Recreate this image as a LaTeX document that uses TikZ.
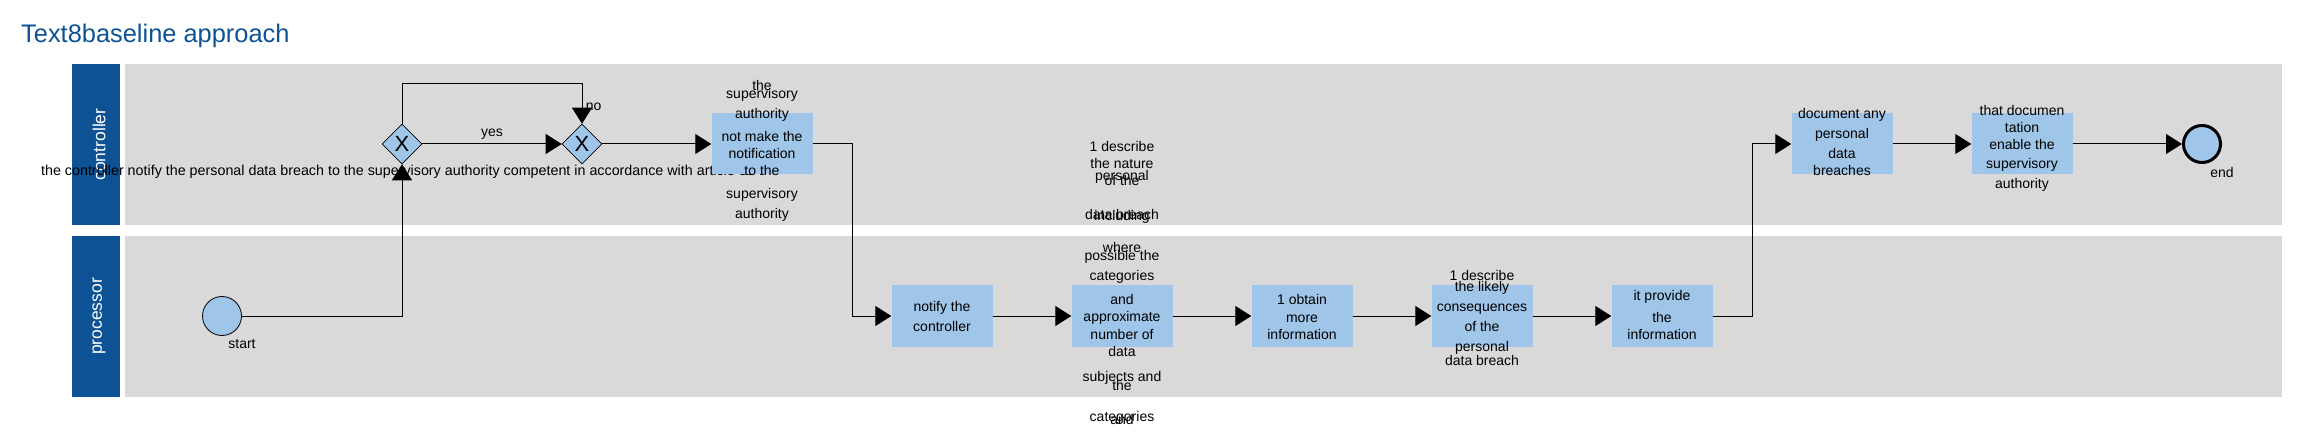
\documentclass[tikz,border=0pt]{standalone}
\usepackage{fontspec}
\setmainfont{Liberation Sans}
\usepackage{xcolor}
\usetikzlibrary{arrows.meta,positioning,calc,shapes.geometric}
\definecolor{laneblue}{RGB}{13,82,149}
\definecolor{lanegray}{RGB}{217,217,217}
\definecolor{taskblue}{RGB}{159,197,232}
\tikzset{
  lane/.style={fill=lanegray,draw=none},
  lanehead/.style={fill=laneblue,draw=none},
  lanename/.style={rotate=90,text=white,font=\fontsize{17.5}{18}\selectfont},
  task/.style={rectangle,fill=taskblue,draw=none,minimum width=101pt,minimum height=61pt,inner sep=0pt},
  tasktext/.style={anchor=base,yshift=-5pt,inner sep=0pt,font=\fontsize{14}{16}\selectfont},
  gateway/.style={diamond,draw,line width=0.6pt,fill=taskblue,minimum size=40pt,inner sep=0pt,
    label={center:{\fontsize{22}{22}\selectfont X}}},
  event/.style={circle,draw,line width=0.8pt,fill=taskblue,minimum size=39pt,inner sep=0pt},
  endevent/.style={event,line width=3pt,minimum size=37pt},
  eventname/.style={font=\fontsize{14}{16}\selectfont,inner sep=0pt},
  flows/.style={
    -{Triangle[length=16pt,width=20pt]},line width=1pt,
    every node/.style={font=\fontsize{14}{16}\selectfont}
  }
}

\begin{document}
\begin{tikzpicture}[x=1pt,y=-1pt,node distance=180pt]
  \useasboundingbox (0,0) rectangle (2299,438);
  \node[anchor=base west,inner sep=0pt,text=laneblue,font=\fontsize{25.4}{28}\selectfont] (title) at (21,43) {Text8baseline approach};

  % pools
  \fill[lanehead] (72,64) rectangle (120,225);
  \fill[lane] (125,64) rectangle (2282,225);
  \fill[lanehead] (72,236) rectangle (120,397);
  \fill[lane] (125,236) rectangle (2282,397);
  \node[lanename] (ctrl) at (99,144.5) {controller};
  \node[lanename] (proc) at (99,316.5) {processor};

  \node[event] (start) at (222,316) {};
  \node[eventname] (startname) at ($(start)+(20,28)$) {start};
  \node[gateway] (g1) at (402,144) {};
  \node[gateway] (g2) [right of=g1] {};

  \draw[flows] (start) -| (g1)
    node[pos=0.974,font=\fontsize{14.3}{16}\selectfont] {the controller notify the personal data breach to the supervisory authority competent in accordance with article 33 .};
  \draw[flows] (g1.north) -- ++(0,-40) -| (g2.north) node[pos=0.79,right] {no};

  \node[task] (t1) [right of=g2] {};
  \node[task] (t2) at (942,316) {};
  \node[task] (t3) [right of=t2] {};
  \node[task] (t4) [right of=t3] {};
  \node[task] (t5) [right of=t4] {};
  \node[task] (t6) [right of=t5] {};
  \node[task] (t7) at (1842,144) {};
  \node[task] (t8) [right of=t7] {};
  \node[endevent] (stop) [right of=t8] {};
  \node[eventname] (stopname) at ($(stop)+(20,28)$) {end};

  % task texts
  \foreach \dy/\txt in {-58/the,-50/supervisory,-30/authority,-7/not make the,10/notification,27/to the,50/supervisory,70/authority}
    \node[tasktext] at ($(t1)+(0,\dy)$) {\txt};
  \foreach \dy/\txt in {-10/notify the,10/controller}
    \node[tasktext] at ($(t2)+(0,\dy)$) {\txt};
  \foreach \dy/\txt in {-169/1 describe,-152/the nature,-135/of the,-140/personal,-101/data breach,-100/including,-68/where,-60/possible the,-40/categories,-16/and,0/approximate,18/number of,35/data,60/subjects and,69/the,100/categories,103/and}
    \node[tasktext] at ($(t3)+(0,\dy)$) {\txt};
  \foreach \dy/\txt in {-16/1 obtain,1/more,18/information}
    \node[tasktext] at ($(t4)+(0,\dy)$) {\txt};
  \foreach \dy/\txt in {-41/1 describe,-30/the likely,-10/consequences,10/of the,30/personal,44/data breach}
    \node[tasktext] at ($(t5)+(0,\dy)$) {\txt};
  \foreach \dy/\txt in {-20/it provide,1/the,18/information}
    \node[tasktext] at ($(t6)+(0,\dy)$) {\txt};
  \foreach \dy/\txt in {-30/document any,-10/personal,10/data,27/breaches}
    \node[tasktext] at ($(t7)+(0,\dy)$) {\txt};
  \foreach \dy/\txt in {-33/that documen,-16/tation,1/enable the,20/supervisory,40/authority}
    \node[tasktext] at ($(t8)+(0,\dy)$) {\txt};

  \path[flows]
  (g1) edge node[above=1pt] {yes} (g2)
  (g2) edge (t1)
  (t2) edge (t3)
  (t3) edge (t4)
  (t4) edge (t5)
  (t5) edge (t6)
  (t7) edge (t8)
  (t8) edge (stop)
  ;
  \draw[flows] (t1) -| ($(t1.east)!.5!(t2.west)$) |- (t2);
  \draw[flows] (t6) -| ($(t6.east)!.5!(t7.west)$) |- (t7);
\end{tikzpicture}
\end{document}
